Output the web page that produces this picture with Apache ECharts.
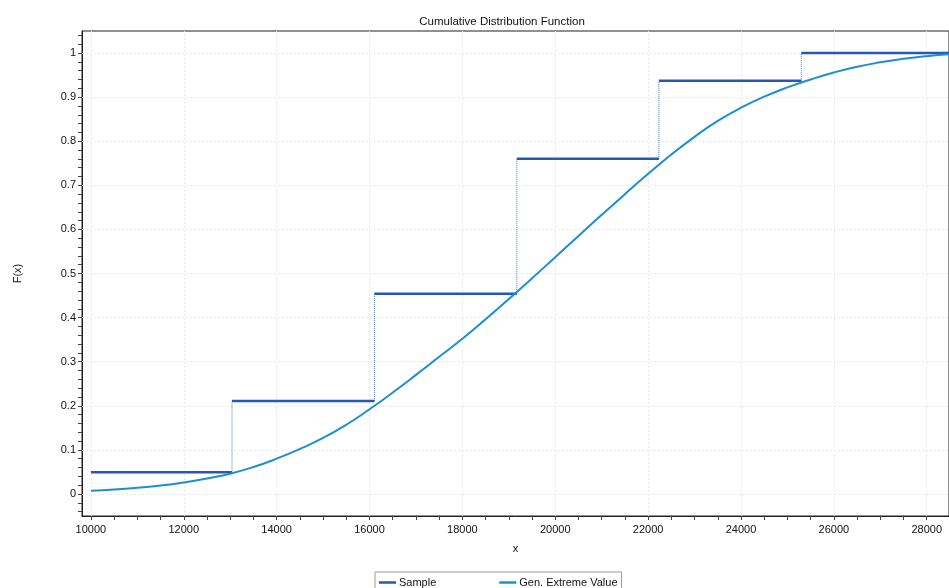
<!DOCTYPE html>
<html>
<head>
<meta charset="utf-8">
<script src="https://cdn.jsdelivr.net/npm/echarts@6/dist/echarts.min.js"></script>
<style>
  html, body { margin: 0; padding: 0; background: #fff; }
  #chart { width: 949px; height: 588px; }
</style>
</head>
<body>
<div id="chart"></div>
<script>
// Empirical CDF of the sample: step edges and the level held on each step
const sampleEdges = [10000, 13039, 16106, 19173, 22232, 25299, 28480];
const sampleF = [0.049, 0.211, 0.454, 0.760, 0.937, 1.0];

// Fitted Generalized Extreme Value CDF
const gevX = [10000, 10500, 11000, 11500, 12000, 12500, 13000, 13500, 14000, 14500,
              15000, 15500, 16000, 16500, 17000, 17500, 18000, 18500, 19000, 19500,
              20000, 20500, 21000, 21500, 22000, 22500, 23000, 23500, 24000, 24500,
              25000, 25500, 26000, 26500, 27000, 27500, 28000, 28480];
const gevF = [0.007, 0.010, 0.014, 0.019, 0.026, 0.035, 0.046, 0.061, 0.080, 0.102,
              0.127, 0.157, 0.192, 0.230, 0.270, 0.311, 0.352, 0.396, 0.442, 0.489,
              0.537, 0.585, 0.633, 0.680, 0.726, 0.770, 0.810, 0.846, 0.876, 0.901,
              0.922, 0.940, 0.956, 0.969, 0.979, 0.987, 0.993, 0.997];

// Axis tick labels
const xLabels = [10000, 12000, 14000, 16000, 18000, 20000, 22000, 24000, 26000, 28000];
const yLabels = [0, 0.1, 0.2, 0.3, 0.4, 0.5, 0.6, 0.7, 0.8, 0.9, 1];

const X_MIN = 9808, X_MAX = 28480, Y_MIN = -0.05, Y_MAX = 1.05;

// minor tick positions
const xMinor = [];
for (let v = 10000; v <= 28000; v += 500) xMinor.push(v);
const yMinor = [];
for (let k = -2; k <= 52; k++) yMinor.push(Math.round(k * 2) / 100);

// horizontal pieces of the step function, broken between steps
const stepFlat = [];
for (let i = 0; i < sampleF.length; i++) {
  stepFlat.push([sampleEdges[i], sampleF[i]]);
  stepFlat.push([sampleEdges[i + 1], sampleF[i]]);
  stepFlat.push([sampleEdges[i + 1], '-']);
}
// vertical jumps of the step function
const stepJumps = [];
for (let i = 1; i < sampleF.length; i++) {
  stepJumps.push([sampleEdges[i], sampleF[i - 1]]);
  stepJumps.push([sampleEdges[i], sampleF[i]]);
  stepJumps.push([sampleEdges[i], '-']);
}

const gevData = gevX.map((x, i) => [x, gevF[i]]);

const gridLineStyle = { color: '#e8e8e8', type: [2, 2], width: 1 };
const gridLines = xLabels.map(v => ({ xAxis: v })).concat(yLabels.map(v => ({ yAxis: v })));

const font = 'Liberation Sans, Arial, sans-serif';
const chart = echarts.init(document.getElementById('chart'), null, { renderer: 'canvas' });

chart.setOption({
  animation: false,
  backgroundColor: '#ffffff',
  textStyle: { fontFamily: font },
  title: {
    text: 'Cumulative Distribution Function',
    left: 497, top: 11, textAlign: 'center',
    textStyle: { fontSize: 11.5, fontWeight: 'normal', color: '#111', fontFamily: font }
  },
  legend: {
    data: [
      { name: 'Sample', icon: 'rect' },
      { name: 'Gen. Extreme Value', icon: 'rect' }
    ],
    left: 375, top: 572,
    orient: 'horizontal',
    itemWidth: 17, itemHeight: 2.5, itemGap: 63,
    padding: [5, 4, 5, 4],
    borderColor: '#9a9a9a', borderWidth: 1, borderRadius: 0,
    textStyle: { fontSize: 11, color: '#111', fontFamily: font, padding: [0, 0, 0, -2] }
  },
  grid: {
    left: 82, top: 31, right: -9, bottom: 72,
    show: true, borderColor: '#222', borderWidth: 1, backgroundColor: '#fff',
    containLabel: false
  },
  xAxis: {
    type: 'value', min: X_MIN, max: X_MAX,
    name: 'x', nameLocation: 'middle', nameGap: 27,
    nameTextStyle: { fontSize: 11, color: '#111', fontFamily: font },
    axisLine: { show: true, onZero: false, lineStyle: { color: '#222', width: 1 } },
    axisTick: { show: true, customValues: xMinor, length: 4, lineStyle: { color: '#444' } },
    axisLabel: {
      customValues: xLabels, fontSize: 11, color: '#111', margin: 8, fontFamily: font,
      formatter: v => String(v)
    },
    splitLine: { show: false }
  },
  yAxis: {
    type: 'value', min: Y_MIN, max: Y_MAX,
    name: 'F(x)', nameLocation: 'middle', nameGap: 59, nameRotate: 90,
    nameTextStyle: { fontSize: 11, color: '#111', fontFamily: font },
    axisLine: { show: true, onZero: false, lineStyle: { color: '#222', width: 1 } },
    axisTick: { show: true, customValues: yMinor, length: 4, lineStyle: { color: '#444' } },
    axisLabel: {
      customValues: yLabels, fontSize: 11, color: '#111', margin: 6, fontFamily: font,
      formatter: v => String(v)
    },
    splitLine: { show: false }
  },
  series: [
    {
      name: 'jumps', type: 'line', data: stepJumps,
      showSymbol: false, symbol: 'none', silent: true, z: 2,
      lineStyle: { color: '#4a78c8', width: 1, type: [1, 1] },
      markLine: {
        silent: true, symbol: 'none', label: { show: false },
        lineStyle: gridLineStyle, data: gridLines, z: 1, animation: false
      }
    },
    {
      name: 'Sample', type: 'line', data: stepFlat,
      showSymbol: false, symbol: 'none', z: 3,
      color: '#2358b8',
      lineStyle: { color: '#2358b8', width: 2.5 }
    },
    {
      name: 'Gen. Extreme Value', type: 'line', data: gevData,
      showSymbol: false, symbol: 'none', smooth: 0.5, z: 4,
      color: '#1b8fd2',
      lineStyle: { color: '#1b8fd2', width: 2 }
    }
  ]
});
</script>
</body>
</html>
